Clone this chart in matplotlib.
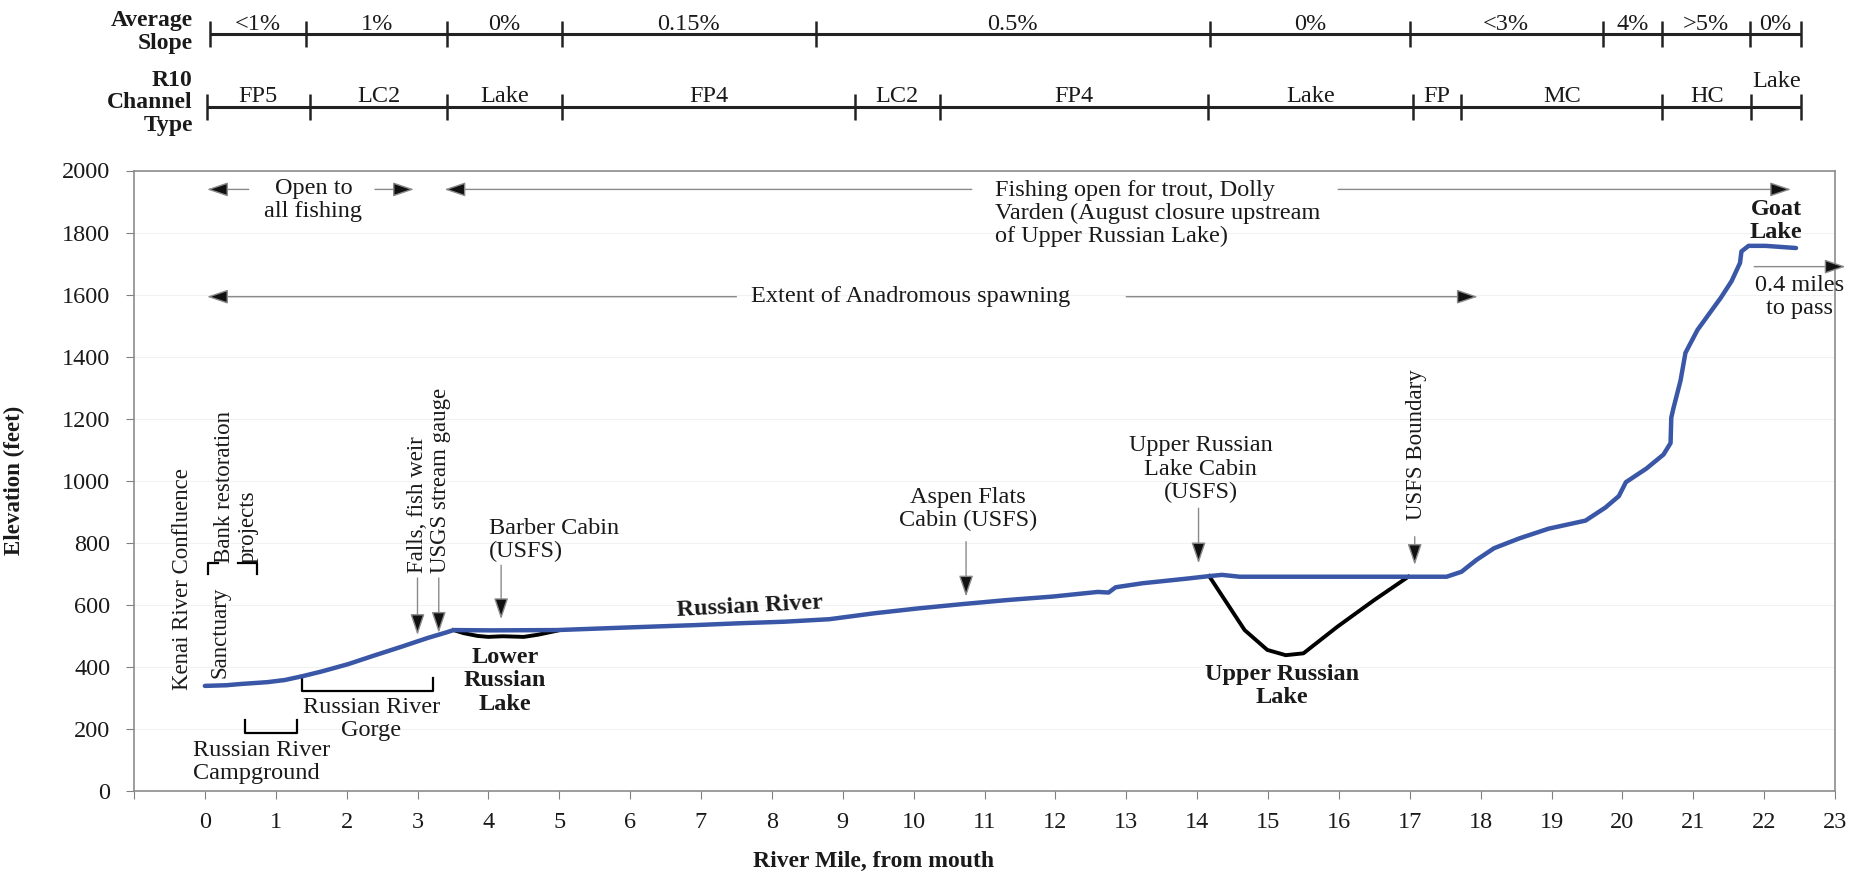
import matplotlib
matplotlib.use('Agg')
import matplotlib.pyplot as plt

plt.rcParams['font.family'] = ['Liberation Serif', 'DejaVu Serif']

# river profile (blue line)
river_mile = [0, 0.3, 0.5, 0.88, 1.13, 1.39, 1.64, 2.02, 2.39, 2.77, 3.15, 3.40, 3.51,
              4.03, 4.97, 5.92, 6.92, 7.55, 8.18, 8.81, 9.44, 10.07, 10.7, 11.33, 11.96,
              12.6, 12.75, 12.85, 13.23, 13.86, 14.17, 14.35, 14.6, 15.5, 16.5, 17.52,
              17.73, 17.94, 18.19, 18.55, 18.96, 19.48, 19.76, 19.95, 20.05, 20.34, 20.58,
              20.68, 20.69, 20.72, 20.82, 20.89, 21.06, 21.25, 21.39, 21.54, 21.66, 21.68,
              21.78, 22.02, 22.45]
elevation_ft = [338, 340, 344, 350, 357, 370, 384, 408, 436, 464, 493, 510, 518,
                517, 518, 526, 534, 540, 545, 553, 572, 588, 602, 615, 626,
                641, 639, 656, 669, 684, 692, 696, 690, 690, 690, 690,
                706, 744, 782, 814, 845, 871, 913, 950, 995, 1039, 1084,
                1121, 1203, 1233, 1322, 1412, 1486, 1546, 1590, 1643, 1702, 1739,
                1757, 1757, 1750]

# lake bottoms (black lines)
lower_lake_mile = [3.51, 3.65, 3.85, 4.0, 4.2, 4.5, 4.7, 4.97]
lower_lake_ft = [518, 508, 499, 496, 498, 496, 503, 516]
upper_lake_mile = [14.17, 14.42, 14.67, 14.99, 15.25, 15.5, 15.98, 16.5, 16.98]
upper_lake_ft = [692, 605, 518, 454, 437, 443, 529, 615, 690]

# top bands
slope_breaks = [0.07, 1.43, 3.42, 5.04, 8.62, 14.18, 17.0, 19.72, 20.56, 21.8, 22.52]
slope_labels = ['<1%', '1%', '0%', '0.15%', '0.5%', '0%', '<3%', '4%', '>5%', '0%']
channel_breaks = [0.03, 1.48, 3.42, 5.04, 9.17, 10.37, 14.16, 17.04, 17.73, 20.56, 21.82, 22.52]
channel_labels = ['FP5', 'LC2', 'Lake', 'FP4', 'LC2', 'FP4', 'Lake', 'FP', 'MC', 'HC', 'Lake']

# brackets (mile start, mile end, elevation)
gorge_bracket = [1.37, 3.22, 322]
campground_bracket = [0.57, 1.30, 185]

blue = '#3a56a6'
txt = '#1a1a1a'
fs = 17.5      # horizontal notes
fs_rot = 16.5  # rotated notes

fig = plt.figure(figsize=(18.7, 8.74), dpi=100)
L, W = 134 / 1870, (1835 - 134) / 1870
ax = fig.add_axes([L, (874 - 790.7) / 874, W, 620.2 / 874])
band = fig.add_axes([L, (874 - 165) / 874, W, 165 / 874])

# ---- main profile
ax.plot(river_mile, elevation_ft, color=blue, lw=3.2, solid_capstyle='round', zorder=3)
ax.plot(lower_lake_mile, lower_lake_ft, color='black', lw=2.8, zorder=2)
ax.plot(upper_lake_mile, upper_lake_ft, color='black', lw=2.8, zorder=2)

ax.set_xlim(-1, 23)
ax.set_ylim(0, 2000)
ax.set_xticks(range(-1, 24))
ax.set_xticklabels([''] + [str(i) for i in range(24)])
ax.set_yticks(range(0, 2001, 200))
ax.tick_params(axis='x', length=6, pad=9, labelsize=17.5, color='#808080', labelcolor=txt)
ax.tick_params(axis='y', length=6, pad=11, labelsize=17.5, color='#808080', labelcolor=txt)
for s in ax.spines.values():
    s.set_color('#8c8c8c')
    s.set_linewidth(1.2)
ax.grid(axis='y', color='#f2f2f2', lw=0.8)
ax.set_axisbelow(True)

ax.set_ylabel('Elevation (feet)', fontsize=16.5, fontweight='bold', color=txt)
ax.yaxis.set_label_coords(-0.064, 0.5)
ax.set_xlabel('River Mile, from mouth', fontsize=17, fontweight='bold', color=txt)
ax.xaxis.set_label_coords(0.435, -0.097)


def arrow(x0, y0, x1, y1):
    ax.annotate('', xy=(x1, y1), xytext=(x0, y0), annotation_clip=False,
                arrowprops=dict(arrowstyle='-|>,head_length=0.65,head_width=0.22',
                                mutation_scale=20, ec='#8a8a8a', fc='#111111', lw=1.0,
                                shrinkA=0, shrinkB=0))


def note(x, y, s, **kw):
    kw.setdefault('ha', 'center')
    kw.setdefault('va', 'center')
    kw.setdefault('fontsize', fs)
    ax.text(x, y, s, color=txt, linespacing=1.13, **kw)


# fishing / spawning extents
arrow(0.62, 1939, 0.03, 1939)
arrow(2.4, 1939, 2.95, 1939)
note(1.53, 1905, 'Open to\nall fishing')
arrow(10.82, 1939, 3.38, 1939)
arrow(15.99, 1939, 22.38, 1939)
note(11.15, 1862, 'Fishing open for trout, Dolly\nVarden (August closure upstream\nof Upper Russian Lake)',
     ha='left')
arrow(7.5, 1593, 0.03, 1593)
arrow(13.0, 1593, 17.96, 1593)
note(7.7, 1593, 'Extent of Anadromous spawning', ha='left')

# left-side labels
note(-0.31, 324, 'Kenai River Confluence', rotation=90, va='bottom', fontsize=fs_rot)
note(0.22, 362, 'Sanctuary', rotation=90, va='bottom', fontsize=fs_rot)
note(0.44, 733, 'Bank restoration\nprojects', rotation=90, va='bottom',
     multialignment='left', fontsize=fs_rot)
ax.plot([0.05, 0.05, 0.19], [700, 735, 735], color='black', lw=1.6)
ax.plot([0.47, 0.73, 0.73], [735, 735, 700], color='black', lw=1.6)

gx0, gx1, gy = gorge_bracket
ax.plot([gx0, gx0, gx1, gx1], [gy + 40, gy, gy, gy + 40], color='black', lw=1.6)
note(2.35, 231, 'Russian River\nGorge')
cx0, cx1, cy = campground_bracket
ax.plot([cx0, cx0, cx1, cx1], [cy + 43, cy, cy, cy + 43], color='black', lw=1.6)
note(-0.17, 94, 'Russian River\nCampground', ha='left', multialignment='left')

note(3.16, 702, 'Falls, fish weir\nUSGS stream gauge', rotation=90, va='bottom',
     multialignment='left', fontsize=fs_rot)
arrow(3.0, 686, 3.0, 502)
arrow(3.3, 686, 3.3, 509)

note(4.01, 808, 'Barber Cabin\n(USFS)', ha='left', multialignment='left')
arrow(4.18, 727, 4.18, 553)
note(4.23, 354, 'Lower\nRussian\nLake', fontweight='bold')

note(7.69, 594, 'Russian River', fontweight='bold', rotation=3)
note(10.77, 909, 'Aspen Flats\nCabin (USFS)')
arrow(10.74, 803, 10.74, 626)
note(14.05, 1037, 'Upper Russian\nLake Cabin\n(USFS)')
arrow(14.02, 911, 14.02, 733)
note(15.2, 339, 'Upper Russian\nLake', fontweight='bold')

note(17.09, 873, 'USFS Boundary', rotation=90, va='bottom', fontsize=fs_rot)
arrow(17.07, 819, 17.07, 728)

note(22.17, 1838, 'Goat\nLake', fontweight='bold')
arrow(21.86, 1690, 23.15, 1690)
note(22.5, 1592, '0.4 miles\nto pass')

# ---- top bands
band.set_xlim(-1, 23)
band.set_ylim(165, 0)
band.axis('off')


def draw_band(breaks, labels, y, ty):
    band.plot([breaks[0], breaks[-1]], [y, y], color='#222222', lw=2.2, solid_capstyle='butt')
    band.vlines(breaks, y - 13, y + 13, color='#222222', lw=1.8)
    for i, lab in enumerate(labels):
        mid = (breaks[i] + breaks[i + 1]) / 2
        yy = ty
        if (breaks[i + 1] - breaks[i]) < 0.8 and lab == 'Lake':
            yy = ty - 15
        band.text(mid, yy, lab, ha='center', va='baseline', fontsize=17.5, color=txt)


draw_band(slope_breaks, slope_labels, 34, 30)
draw_band(channel_breaks, channel_labels, 107, 102)
band.text(-0.17, 32, 'Average\nSlope', ha='right', va='center', fontsize=17,
          fontweight='bold', color=txt, linespacing=1.1)
band.text(-0.17, 103, 'R10\nChannel\nType', ha='right', va='center', fontsize=17,
          fontweight='bold', color=txt, linespacing=1.1)

fig.savefig('out.png', dpi=100, facecolor='white')
